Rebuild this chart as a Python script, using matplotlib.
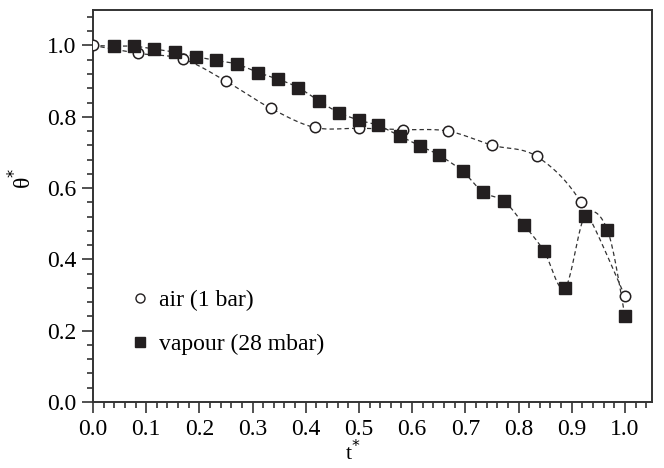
import numpy as np
import matplotlib
matplotlib.use('Agg')
from matplotlib import pyplot as plt
from matplotlib.lines import Line2D
from matplotlib.ticker import MultipleLocator

# data
air_t = [0.0, 0.084, 0.169, 0.251, 0.334, 0.417, 0.500, 0.583, 0.667, 0.751, 0.834, 0.917, 1.0]
air_theta = [1.0, 0.978, 0.962, 0.899, 0.824, 0.770, 0.768, 0.764, 0.760, 0.720, 0.689, 0.561, 0.297]

vap_t = [0.0, 0.039, 0.077, 0.115, 0.155, 0.193, 0.231, 0.270, 0.311, 0.347, 0.386, 0.424,
         0.462, 0.501, 0.536, 0.577, 0.615, 0.650, 0.695, 0.733, 0.773, 0.811, 0.848,
         0.887, 0.925, 0.967, 1.0]
vap_theta = [1.0, 0.998, 0.998, 0.990, 0.981, 0.969, 0.958, 0.948, 0.924, 0.906, 0.882, 0.845,
             0.812, 0.790, 0.776, 0.746, 0.718, 0.693, 0.647, 0.589, 0.563, 0.496, 0.423,
             0.319, 0.522, 0.483, 0.241]

labels = ['air (1 bar)', 'vapour (28 mbar)']


def smooth(x, y, n=20):
    # catmull-rom curve through the points
    p = np.column_stack([x, y])
    p = np.vstack([p[0], p, p[-1]])
    out = []
    s = np.linspace(0, 1, n, endpoint=False)[:, None]
    for i in range(1, len(p) - 2):
        p0, p1, p2, p3 = p[i - 1], p[i], p[i + 1], p[i + 2]
        c = 0.5 * ((2 * p1) + (-p0 + p2) * s + (2 * p0 - 5 * p1 + 4 * p2 - p3) * s ** 2
                   + (-p0 + 3 * p1 - 3 * p2 + p3) * s ** 3)
        out.append(c)
    out.append(p[-2][None, :])
    c = np.vstack(out)
    return c[:, 0], c[:, 1]


plt.rcParams['font.family'] = ['Liberation Serif', 'DejaVu Serif']
plt.rcParams['font.size'] = 17

fig = plt.figure(figsize=(6.64, 4.68), dpi=100)
ax = fig.add_axes([0.140, 0.141, 0.842, 0.838])

ink = '#231f20'
dash = dict(color='#333333', lw=0.9, dashes=(3.5, 2.5))

ax.plot(*smooth(air_t, air_theta), **dash)
ax.plot(*smooth(vap_t, vap_theta), **dash)
ax.plot(air_t, air_theta, 'o', ms=7.5, mfc='white', mec=ink, mew=1.1, ls='none', zorder=3)
ax.plot(vap_t[1:], vap_theta[1:], 's', ms=8, mfc=ink, mec=ink, ls='none', zorder=3)

ax.set_xlim(0, 1.051)
ax.set_ylim(0, 1.10)
ax.xaxis.set_major_locator(MultipleLocator(0.1))
ax.xaxis.set_minor_locator(MultipleLocator(0.02))
ax.yaxis.set_major_locator(MultipleLocator(0.2))
ax.yaxis.set_minor_locator(MultipleLocator(0.04))
ax.xaxis.set_major_formatter(matplotlib.ticker.FormatStrFormatter('%.1f'))
ax.yaxis.set_major_formatter(matplotlib.ticker.FormatStrFormatter('%.1f'))
ax.tick_params(which='both', direction='out', top=False, right=False, width=1.2, color='#333333')
ax.tick_params(which='major', length=8, pad=4)
ax.tick_params(which='minor', length=4)
for s in ax.spines.values():
    s.set_linewidth(1.4)
    s.set_color('#333333')

ax.set_xlabel('t$^{*}$', fontsize=16)
ax.set_ylabel('θ$^{*}$')
ax.xaxis.set_label_coords(0.465, -0.098)
ax.yaxis.set_label_coords(-0.10, 0.57)

handles = [Line2D([], [], marker='o', ls='none', ms=6.5, mfc='white', mec=ink, mew=1.0),
           Line2D([], [], marker='s', ls='none', ms=7, mfc=ink, mec=ink)]
ax.legend(handles, labels, frameon=False, loc='lower left', bbox_to_anchor=(0.055, 0.095),
          handlelength=0.6, handletextpad=0.5, labelspacing=0.95, borderaxespad=0)

fig.savefig('out.png', dpi=100)
